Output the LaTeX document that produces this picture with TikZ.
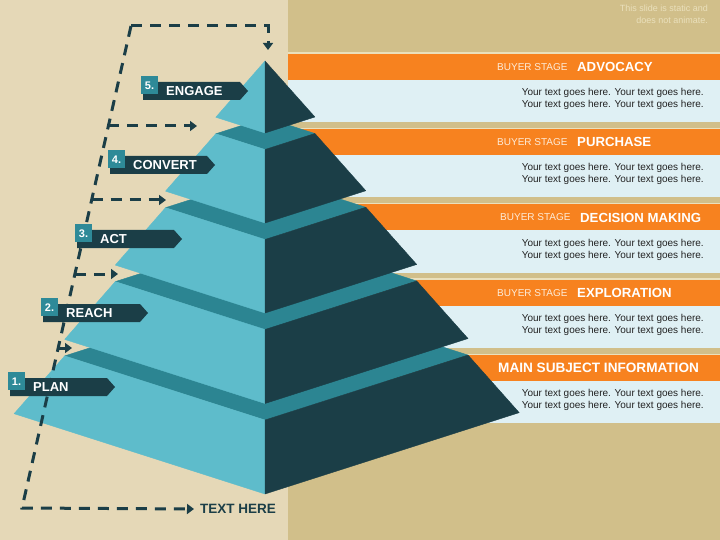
\documentclass[tikz,border=0pt]{standalone}
\usepackage{fontspec}
\setmainfont{Liberation Sans}
\usetikzlibrary{arrows.meta}
\definecolor{bgL}{HTML}{E5D8B7}
\definecolor{bgR}{HTML}{D1BF8A}
\definecolor{orangeC}{HTML}{F7821F}
\definecolor{bandC}{HTML}{DFF0F4}
\definecolor{lightP}{HTML}{5EBCCB}
\definecolor{darkP}{HTML}{1B3E47}
\definecolor{tealP}{HTML}{2C8592}
\definecolor{numC}{HTML}{2E8A98}
\definecolor{noteC}{HTML}{EAE0BC}
\definecolor{bodyC}{HTML}{222222}
\definecolor{stageC}{HTML}{FDEBD8}
\tikzset{
  face/.style={fill=#1, draw=#1, line width=0.4pt, line join=round},
  dashline/.style={draw=darkP, line width=3pt, dash pattern=on 11pt off 8pt},
  tipped/.style={-{Triangle[length=7pt,width=10pt]}},
  stagetxt/.style={anchor=west, inner sep=0pt, text=stageC, font=\fontsize{10}{10}\selectfont},
  nametxt/.style={anchor=west, inner sep=0pt, text=white, font=\bfseries\fontsize{13.2}{13.2}\selectfont},
  bodytxt/.style={anchor=east, inner sep=0pt, align=right, text=bodyC, font=\fontsize{10}{12}\selectfont},
  labtxt/.style={anchor=west, inner sep=0pt, text=white, font=\bfseries\fontsize{13}{13}\selectfont},
  numtxt/.style={inner sep=0pt, text=white, font=\bfseries\fontsize{11}{11}\selectfont}
}
\begin{document}
\begin{tikzpicture}[x=1pt,y=-1pt]
\useasboundingbox (0,0) rectangle (720,540);
% backgrounds
\fill[bgL] (0,0) rectangle (288,540);
\fill[bgR] (288,0) rectangle (720,540);
% bands
\foreach \k in {0,...,4} {
  \pgfmathsetmacro\yo{54+75.25*\k}
  \fill[noteC] (288,{\yo-1.5}) rectangle (720,\yo);
  \fill[orangeC] (288,\yo) rectangle (720,{\yo+26});
  \fill[bandC] (288,{\yo+26}) rectangle (720,{\yo+68});
}
% note
\node[anchor=north east, inner sep=0pt, align=right, text=noteC, font=\fontsize{9}{12}\selectfont] (note) at (708,5) {This slide is static and\\does not animate.};
% stage headers
\node[stagetxt] (s5) at (497,67) {BUYER STAGE};
\node[nametxt] (n5) at (577,67) {ADVOCACY};
\node[stagetxt] (s4) at (497,142) {BUYER STAGE};
\node[nametxt] (n4) at (577,142) {PURCHASE};
\node[stagetxt] (s3) at (500,217.5) {BUYER STAGE};
\node[nametxt] (n3) at (580,217.5) {DECISION MAKING};
\node[stagetxt] (s2) at (497,293) {BUYER STAGE};
\node[nametxt] (n2) at (577,293) {EXPLORATION};
\node[nametxt, font=\bfseries\fontsize{13.6}{13.6}\selectfont] (n1) at (498,368) {MAIN SUBJECT INFORMATION};
% body texts
\foreach \k in {0,...,4} {
  \pgfmathsetmacro\yb{99+75.25*\k}
  \node[bodytxt] (body\k) at (704,\yb) {Your text goes here. Your text goes here.\\Your text goes here. Your text goes here.};
}
% pyramid: slab 5
\fill[face=tealP] (265,420) -- (64.7,355.9) -- (267.7,290.95) -- (468,355.05) -- cycle;
\fill[face=lightP] (64.7,355.9) -- (265,420) -- (265,494) -- (14.1,413.7) -- cycle;
\fill[face=darkP] (265,420) -- (468,355.05) -- (519.2,412.65) -- (265,494) -- cycle;
% slab 4
\fill[face=tealP] (265,329.5) -- (115.3,281.6) -- (267,233.05) -- (416.7,280.95) -- cycle;
\fill[face=lightP] (115.3,281.6) -- (265,329.5) -- (265,403.5) -- (64.7,339.4) -- cycle;
\fill[face=darkP] (265,329.5) -- (416.7,280.95) -- (468,338.55) -- (265,403.5) -- cycle;
% slab 3
\fill[face=tealP] (265,239.5) -- (165.5,207.67) -- (266.3,175.42) -- (365.8,207.25) -- cycle;
\fill[face=lightP] (165.5,207.67) -- (265,239.5) -- (265,313) -- (115.3,265.1) -- cycle;
\fill[face=darkP] (265,239.5) -- (365.8,207.25) -- (416.7,264.45) -- (265,313) -- cycle;
% slab 2
\fill[face=tealP] (265,149.5) -- (215.8,133.75) -- (265.7,117.75) -- (314.9,133.5) -- cycle;
\fill[face=lightP] (215.8,133.75) -- (265,149.5) -- (265,223) -- (165.5,191.17) -- cycle;
\fill[face=darkP] (265,149.5) -- (314.9,133.5) -- (365.8,190.75) -- (265,223) -- cycle;
% slab 1
\fill[face=lightP] (265,61) -- (265,133) -- (215.8,117.25) -- cycle;
\fill[face=darkP] (265,61) -- (314.9,117) -- (265,133) -- cycle;
% dashed connectors
\node[anchor=west, inner sep=0pt, text=darkP, font=\bfseries\fontsize{13.5}{13.5}\selectfont] (texthere) at (200,509) {TEXT HERE};
\coordinate (p0) at (131,26);
\coordinate (p1) at (268,26);
\coordinate (p2) at (268,50);
\coordinate (pb) at (22,508);
\draw[dashline, tipped] (p0) -- (p1) -- (p2);
\draw[dashline, tipped] (p0) -- (pb) -- ([xshift=-6pt]texthere.west);
\coordinate (h1s) at (108.4,126);  \coordinate (h1e) at (197,126);
\coordinate (h2s) at (91.7,200);   \coordinate (h2e) at (166,200);
\coordinate (h3s) at (74.9,274);   \coordinate (h3e) at (118,274);
\coordinate (h4s) at (58.2,348);   \coordinate (h4e) at (72,348);
\draw[dashline, tipped] (h1s) -- (h1e);
\draw[dashline, tipped] (h2s) -- (h2e);
\draw[dashline, tipped] (h3s) -- (h3e);
\draw[dashline, tipped] (h4s) -- (h4e);
% labels
\foreach \n/\t/\x/\y in {5/ENGAGE/143/82, 4/CONVERT/110/156, 3/ACT/77/230, 2/REACH/43/304, 1/PLAN/10/378} {
  \fill[darkP] (\x,\y) -- ++(97,0) -- ++(8,9) -- ++(-8,9) -- ++(-97,0) -- cycle;
  \fill[numC] ({\x-2},{\y-6}) rectangle ++(17,18);
  \node[numtxt] (num\n) at ({\x+6.5},{\y+3.5}) {\n.};
  \node[labtxt] (lab\n) at ({\x+23},{\y+9}) {\t};
}
\end{tikzpicture}
\end{document}
